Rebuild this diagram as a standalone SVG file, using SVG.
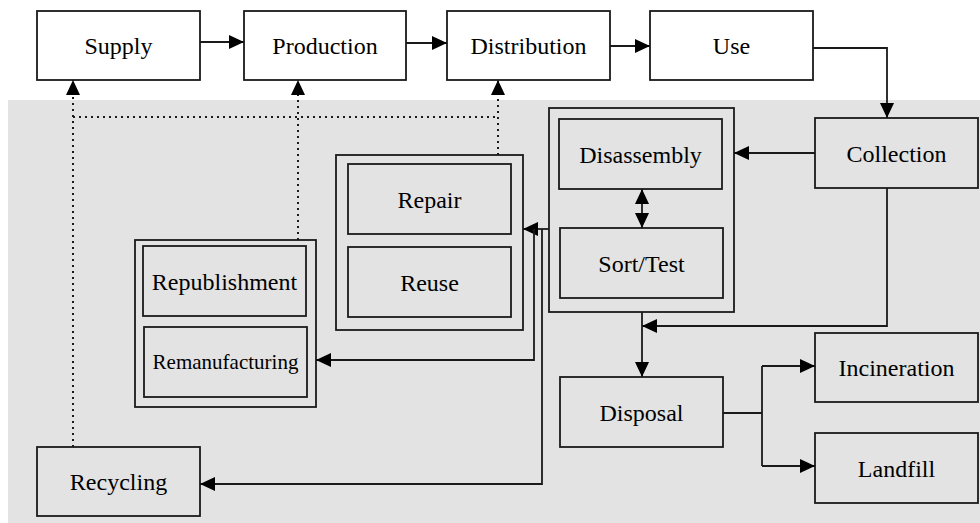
<svg xmlns="http://www.w3.org/2000/svg" width="980" height="523" viewBox="0 0 980 523">
<defs>
<marker id="ah" markerUnits="userSpaceOnUse" viewBox="0 0 15 14" refX="15" refY="7" markerWidth="15" markerHeight="14" orient="auto-start-reverse">
<path d="M0,0 L15,7 L0,14 z" fill="#000"/>
</marker>
</defs>
<rect x="8" y="100" width="972" height="423" fill="#e3e3e3"/>

<g id="supply"><rect x="37" y="11" width="163" height="69" fill="#fff" stroke="#1a1a1a" stroke-width="1.8"/><text x="118.5" y="54" font-family="Times New Roman, Liberation Serif, serif" font-size="24" text-anchor="middle">Supply</text></g>
<g id="production"><rect x="244" y="11" width="162" height="69" fill="#fff" stroke="#1a1a1a" stroke-width="1.8"/><text x="325" y="54" font-family="Times New Roman, Liberation Serif, serif" font-size="24" text-anchor="middle">Production</text></g>
<g id="distribution"><rect x="447" y="11" width="163" height="69" fill="#fff" stroke="#1a1a1a" stroke-width="1.8"/><text x="528.5" y="54" font-family="Times New Roman, Liberation Serif, serif" font-size="24" text-anchor="middle">Distribution</text></g>
<g id="use"><rect x="650" y="11" width="163" height="69" fill="#fff" stroke="#1a1a1a" stroke-width="1.8"/><text x="731.5" y="54" font-family="Times New Roman, Liberation Serif, serif" font-size="24" text-anchor="middle">Use</text></g>
<g id="collection"><rect x="815" y="118" width="163" height="70" fill="none" stroke="#1a1a1a" stroke-width="1.8"/><text x="896.5" y="161.5" font-family="Times New Roman, Liberation Serif, serif" font-size="24" text-anchor="middle">Collection</text></g>
<g id="disassembly-sort-group"><rect x="549" y="108" width="185" height="204" fill="none" stroke="#1a1a1a" stroke-width="1.8"/></g>
<g id="disassembly"><rect x="559" y="119" width="163" height="70" fill="none" stroke="#1a1a1a" stroke-width="1.8"/><text x="640.5" y="162.5" font-family="Times New Roman, Liberation Serif, serif" font-size="24" text-anchor="middle">Disassembly</text></g>
<g id="sorttest"><rect x="560" y="228" width="163" height="70" fill="none" stroke="#1a1a1a" stroke-width="1.8"/><text x="641.5" y="271.5" font-family="Times New Roman, Liberation Serif, serif" font-size="24" text-anchor="middle">Sort/Test</text></g>
<g id="repair-reuse-group"><rect x="336" y="155" width="187" height="175" fill="none" stroke="#1a1a1a" stroke-width="1.8"/></g>
<g id="repair"><rect x="348" y="164" width="163" height="70" fill="none" stroke="#1a1a1a" stroke-width="1.8"/><text x="429.5" y="207.5" font-family="Times New Roman, Liberation Serif, serif" font-size="24" text-anchor="middle">Repair</text></g>
<g id="reuse"><rect x="348" y="247" width="163" height="70" fill="none" stroke="#1a1a1a" stroke-width="1.8"/><text x="429.5" y="290.5" font-family="Times New Roman, Liberation Serif, serif" font-size="24" text-anchor="middle">Reuse</text></g>
<g id="reman-group"><rect x="135" y="240" width="181" height="167" fill="none" stroke="#1a1a1a" stroke-width="1.8"/></g>
<g id="republishment"><rect x="143" y="246" width="163" height="70" fill="none" stroke="#1a1a1a" stroke-width="1.8"/><text x="224.5" y="289.5" font-family="Times New Roman, Liberation Serif, serif" font-size="24" text-anchor="middle">Republishment</text></g>
<g id="remanufacturing"><rect x="144" y="327" width="163" height="70" fill="none" stroke="#1a1a1a" stroke-width="1.8"/><text x="225.5" y="369" font-family="Times New Roman, Liberation Serif, serif" font-size="21" text-anchor="middle">Remanufacturing</text></g>
<g id="recycling"><rect x="37" y="447" width="163" height="69" fill="none" stroke="#1a1a1a" stroke-width="1.8"/><text x="118.5" y="490" font-family="Times New Roman, Liberation Serif, serif" font-size="24" text-anchor="middle">Recycling</text></g>
<g id="disposal"><rect x="560" y="377" width="163" height="70" fill="none" stroke="#1a1a1a" stroke-width="1.8"/><text x="641.5" y="420.5" font-family="Times New Roman, Liberation Serif, serif" font-size="24" text-anchor="middle">Disposal</text></g>
<g id="incineration"><rect x="815" y="333" width="163" height="69" fill="none" stroke="#1a1a1a" stroke-width="1.8"/><text x="896.5" y="376" font-family="Times New Roman, Liberation Serif, serif" font-size="24" text-anchor="middle">Incineration</text></g>
<g id="landfill"><rect x="815" y="433" width="163" height="70" fill="none" stroke="#1a1a1a" stroke-width="1.8"/><text x="896.5" y="476.5" font-family="Times New Roman, Liberation Serif, serif" font-size="24" text-anchor="middle">Landfill</text></g>

<g id="connectors" fill="none" stroke="#1a1a1a" stroke-width="1.8">
<path d="M200,42 H244" marker-end="url(#ah)"/>
<path d="M406,43 H447" marker-end="url(#ah)"/>
<path d="M610,46 H650" marker-end="url(#ah)"/>
<path d="M813,48 H887 V118" marker-end="url(#ah)"/>
<path d="M815,153 H734" marker-end="url(#ah)"/>
<path d="M642,189 V228" marker-start="url(#ah)" marker-end="url(#ah)"/>
<path d="M887,188 V326 H642" marker-end="url(#ah)"/>
<path d="M642,312 V377" marker-end="url(#ah)"/>
<path d="M723,413 H762"/>
<path d="M762,366 V466"/>
<path d="M762,366 H815" marker-end="url(#ah)"/>
<path d="M762,466 H815" marker-end="url(#ah)"/>
<path d="M549,229 H523" marker-end="url(#ah)"/>
<path d="M534,229 V360 H316" marker-end="url(#ah)"/>
<path d="M542,229 V484 H200" marker-end="url(#ah)"/>
<g stroke-width="2" stroke-dasharray="2 4">
<path d="M73,447 V80" marker-end="url(#ah)"/>
<path d="M73,117 H498"/>
<path d="M298,240 V80" marker-end="url(#ah)"/>
<path d="M498,155 V80" marker-end="url(#ah)"/>
</g>
</g>
</svg>
